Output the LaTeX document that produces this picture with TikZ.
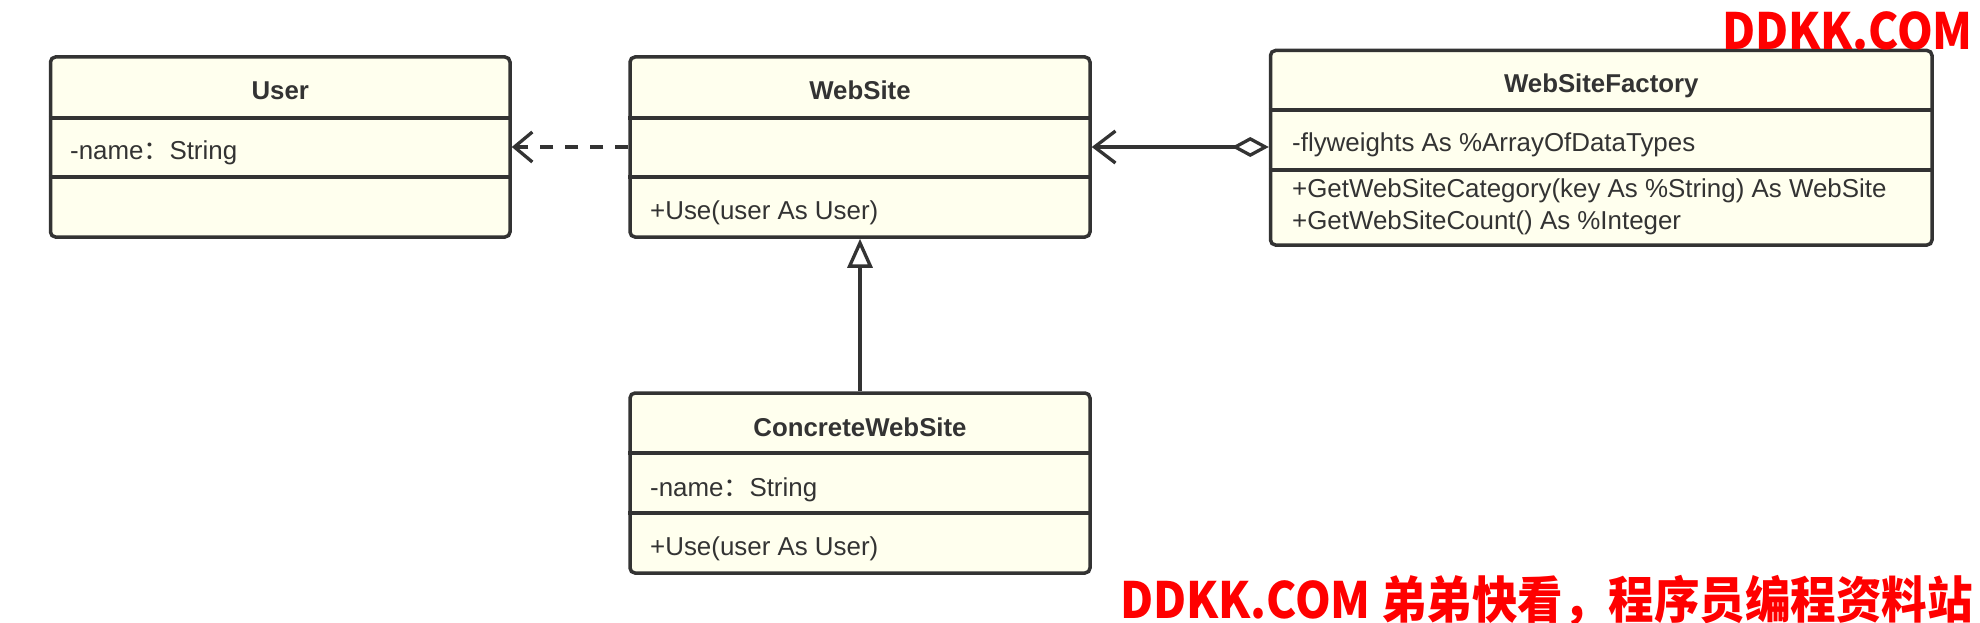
\documentclass[tikz,border=0pt]{standalone}
\usepackage{fontspec}
\setmainfont{Liberation Sans}
\newfontfamily\cjk{Noto Sans CJK SC}
\newfontfamily\cjkwm[FakeStretch=0.91]{Noto Sans CJK SC}
\usetikzlibrary{arrows.meta}
\definecolor{ln}{HTML}{333333}
\definecolor{bg}{HTML}{FFFFEE}
\tikzset{
  umlbox/.style={draw=ln, fill=bg, line width=3.5pt, rounded corners=5pt, inner sep=0pt},
  sepline/.style={draw=ln, line width=3.5pt},
  ttl/.style={font=\fontsize{25.8}{30}\selectfont\bfseries, text=ln, anchor=base, inner sep=0pt},
  txt/.style={font=\fontsize{25.9}{30}\selectfont, text=ln, anchor=base west, inner sep=0pt},
  conn/.style={draw=ln, line width=3.3pt},
  wm/.style={font=\cjkwm\bfseries\fontsize{50}{55}\selectfont, text=red, inner sep=0pt, anchor=base east}
}
\begin{document}
\begin{tikzpicture}[x=1pt,y=-1pt]
\useasboundingbox (0,0) rectangle (1980,623);
% boxes
\node[umlbox, minimum width=459.5pt, minimum height=180pt] (user) at (280.25,147) {};
\node[umlbox, minimum width=460pt, minimum height=180pt] (website) at (860,147) {};
\node[umlbox, minimum width=661.5pt, minimum height=194.5pt] (factory) at (1601.25,147.75) {};
\node[umlbox, minimum width=460pt, minimum height=180pt] (concrete) at (860,483) {};
% separators
\draw[sepline] ([yshift=29pt]user.west) -- ([yshift=29pt]user.east);
\draw[sepline] ([yshift=-30pt]user.west) -- ([yshift=-30pt]user.east);
\draw[sepline] ([yshift=29pt]website.west) -- ([yshift=29pt]website.east);
\draw[sepline] ([yshift=-30pt]website.west) -- ([yshift=-30pt]website.east);
\draw[sepline] ([yshift=37.75pt]factory.west) -- ([yshift=37.75pt]factory.east);
\draw[sepline] ([yshift=-22.25pt]factory.west) -- ([yshift=-22.25pt]factory.east);
\draw[sepline] ([yshift=30pt]concrete.west) -- ([yshift=30pt]concrete.east);
\draw[sepline] ([yshift=-30pt]concrete.west) -- ([yshift=-30pt]concrete.east);
% texts
\node[ttl] (userT) at (280.25,100) {User};
\node[txt] (userA) at (70,159) {-name{\cjk ：}String};
\node[ttl] (websiteT) at (860,100) {WebSite};
\node[txt] (websiteM) at (650,219) {+Use(user As User)};
\node[ttl] (factoryT) at (1601.25,93) {WebSiteFactory};
\node[txt] (factoryA) at (1292,151) {-flyweights As \%ArrayOfDataTypes};
\node[txt] (factoryM1) at (1292,197.5) {+GetWebSiteCategory(key As \%String) As WebSite};
\node[txt] (factoryM2) at (1292,229) {+GetWebSiteCount() As \%Integer};
\node[ttl] (concreteT) at (860,436.5) {ConcreteWebSite};
\node[txt] (concreteA) at (650,496) {-name{\cjk ：}String};
\node[txt] (concreteM) at (650,555) {+Use(user As User)};
% connectors
\draw[conn, dash pattern=on 13pt off 12pt, -{Straight Barb[length=18pt,width=30pt]}] (website.west) -- (user.east);
\draw[conn, {Diamond[open,length=37pt,width=20pt]}-{Straight Barb[length=21pt,width=32pt]}] (factory.west |- website.east) -- (website.east);
\draw[conn, -{Triangle[open,length=29pt,width=25pt]}] (concrete.north) -- (website.south);
% watermarks
\node[wm] (wm1) at (1973,50) {DDKK.COM};
\node[wm] (wm2) at (1973,618) {DDKK.COM 弟弟快看，程序员编程资料站};
\end{tikzpicture}
\end{document}
